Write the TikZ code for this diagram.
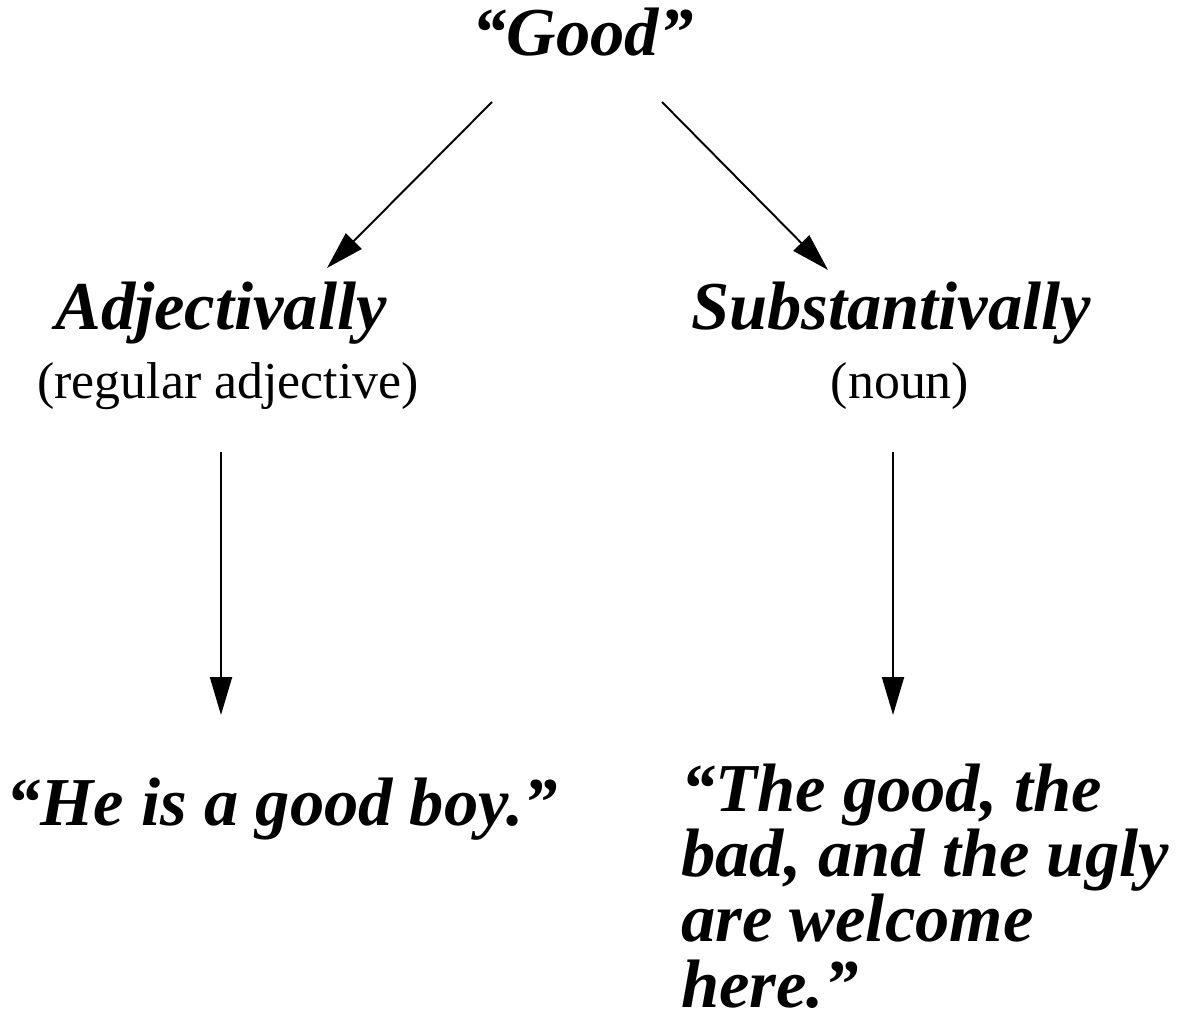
\documentclass[tikz,border=0pt]{standalone}
\usepackage{fontspec}
\setmainfont{Liberation Serif}
\usepackage{tikz}
\usetikzlibrary{arrows.meta}

\tikzset{
    big/.style={inner sep=0pt, font=\fontsize{39}{37}\selectfont\bfseries\itshape},
    small/.style={inner sep=0pt, font=\fontsize{29.5}{33}\selectfont},
    link/.style={line width=1.1pt, -{Triangle[length=0.76cm,width=0.44cm]}}
}

\begin{document}
\begin{tikzpicture}
        \useasboundingbox (0,0) rectangle (23.58,-20.5);

        \node[big, anchor=base] (good) at (11.66,-1.12) {``Good''};
        \node[big, anchor=base] (adj) at (4.42,-6.58) {Adjectivally};
        \node[small, anchor=base] (adjnote) at (4.56,-7.96) {(regular adjective)};
        \node[big, anchor=base] (subst) at (17.82,-6.58) {Substantivally};
        \node[small, anchor=base] (substnote) at (18.0,-7.96) {(noun)};
        \node[big, anchor=base west] (adjex) at (0.12,-16.5) {``He is a good boy.''};
        \node[big, anchor=base west, align=left] (substex) at (13.62,-20.14)
            {``The good, the\\ bad, and the ugly\\ are welcome\\ here.''};

        \draw[link] ([shift={(-1.82,-0.92)}]good.base) -- ([shift={(2.12,1.22)}]adj.base);
        \draw[link] ([shift={(1.58,-0.92)}]good.base) -- ([shift={(-1.26,1.18)}]subst.base);
        \draw[link] ([shift={(-0.14,-1.08)}]adjnote.base) -- ([shift={(-0.14,-6.34)}]adjnote.base);
        \draw[link] ([shift={(-0.14,-1.08)}]substnote.base) -- ([shift={(-0.14,-6.34)}]substnote.base);
    \end{tikzpicture}
\end{document}
